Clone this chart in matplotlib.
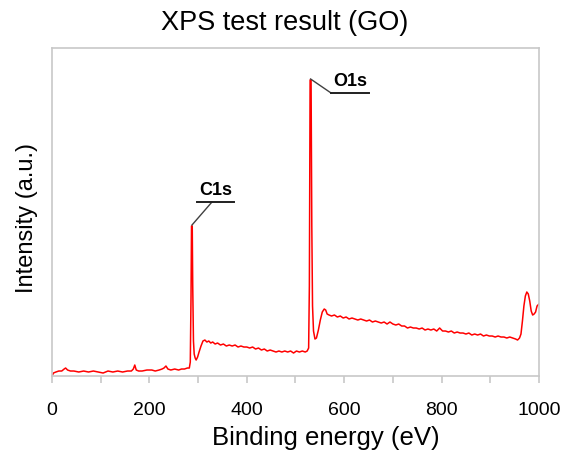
import numpy as np
import matplotlib
matplotlib.use("Agg")
import matplotlib.pyplot as plt

plt.rcParams['font.family'] = ['Liberation Sans', 'DejaVu Sans']

# survey spectrum (binding energy in eV, intensity in a.u.)
energy = [0, 3, 8, 14, 20, 25, 28, 32, 38, 45, 55, 65, 75, 85, 95, 105, 115, 125, 135, 145,
          155, 163, 167, 170, 173, 178, 185, 195, 205, 212, 220, 226, 230, 234, 238, 244, 252,
          260, 266, 272, 278, 282,
          284, 285.5, 286.5, 288, 289, 290.5, 292, 294, 296, 299, 302, 306, 310, 314, 318, 322,
          326, 330, 335, 340, 346, 352, 358, 364, 370, 376, 382, 388, 394, 400, 406, 412, 418,
          424, 430, 436, 442, 448, 454, 460, 466, 472, 478, 484, 490, 496, 502, 508, 514, 520,
          524, 527,
          528.5, 530, 532, 533.5, 535, 537, 540, 543, 547, 551, 555, 559, 562, 565, 569, 574,
          580, 586, 592, 598, 604, 610, 616, 622, 628, 634, 640, 646, 652, 658, 664, 670, 676,
          682, 688, 694, 700, 706, 712, 718, 724, 730, 736, 742, 748, 754, 760, 766, 772, 778,
          784, 790, 796, 802, 808, 814, 820, 826, 832, 838, 844, 850, 856, 862, 868, 874, 880,
          886, 892, 898, 904, 910, 916, 922, 928, 934, 940, 946, 952, 956, 960, 963, 966, 969,
          972, 975, 978, 981, 984, 987, 990, 993, 996, 1000]
intensity = [0, 3, 4, 5, 5, 7, 8, 6, 5, 5, 4, 5, 4, 5, 4, 3, 5, 4, 5, 4,
             5, 5, 7, 11, 6, 5, 5, 6, 6, 5, 6, 7, 8, 10, 7, 6, 7,
             6, 7, 7, 8, 8,
             14, 80, 150, 150, 90, 35, 22, 18, 16, 19, 24, 30, 35, 36, 34, 35,
             33, 34, 32, 33, 31, 32, 30, 31, 30, 31, 29, 30, 29, 29, 28, 29, 27,
             28, 26, 27, 25, 26, 25, 24, 25, 24, 25, 24, 25, 23, 25, 24, 25, 24,
             25, 28,
             90, 296, 296, 150, 70, 45, 37, 38, 46, 56, 64, 67, 66, 62, 61, 60,
             61, 59, 60, 58, 59, 57, 58, 57, 56, 57, 56, 55, 56, 54, 55, 54, 53,
             54, 52, 54, 52, 51, 52, 50, 50, 48, 49, 48, 48, 47, 48, 46, 47, 46,
             47, 45, 48, 45, 45, 44, 45, 43, 44, 43, 43, 42, 43, 41, 42, 41, 42,
             40, 41, 40, 40, 39, 40, 39, 39, 38, 39, 38, 37, 36, 38, 42, 55, 70,
             80, 84, 82, 75, 65, 61, 62, 64, 70, 72]

peak_names = ["C1s", "O1s"]
peak_ev = [287.5, 531]
peak_top = [150, 296]

fig = plt.figure(figsize=(5.7, 4.57), dpi=100)
ax = fig.add_axes([0.0912, 0.1772, 0.8544, 0.7178])

ax.plot(energy, intensity, color='#ff0000', lw=1.1)

# labels with leader line and underline
# (dx, dy to the start of the leader, underline width, leader offset on underline)
label_geom = [(41, 24, 76, 30), (42, -13, 78, 0)]
for name, ev, top, (dx, dy, w, off) in zip(peak_names, peak_ev, peak_top, label_geom):
    lx, ly = ev + dx, top + dy
    ax.plot([ev, lx], [top + 1, ly], color='#404040', lw=1.0)
    ax.plot([lx - off, lx - off + w], [ly, ly], color='#202020', lw=1.4)
    ax.text(lx - off + w / 2, ly + 3, name, ha='center', va='bottom',
            fontsize=13, fontweight='bold')

ax.set_xlim(0, 1000)
ax.set_ylim(0, 328)
ax.set_xticks(range(0, 1001, 200))
ax.set_xticks(range(0, 1001, 100), minor=True)
ax.set_yticks([])
for s in ax.spines.values():
    s.set_color('#c8c8c8')
    s.set_linewidth(1.2)
ax.tick_params(axis='x', which='both', direction='out', length=5, width=1.2,
               color='#c8c8c8', labelsize=14, pad=14)

ax.set_xlabel("Binding energy (eV)", fontsize=18.5, va='center')
ax.xaxis.set_label_coords(0.563, -0.19)
ax.set_ylabel("Intensity (a.u.)", fontsize=17, va='center')
ax.yaxis.set_label_coords(-0.052, 0.482)
fig.text(0.5, 0.950, "XPS test result (GO)", ha='center', va='center', fontsize=19.5)

fig.savefig("out.png", dpi=100)
